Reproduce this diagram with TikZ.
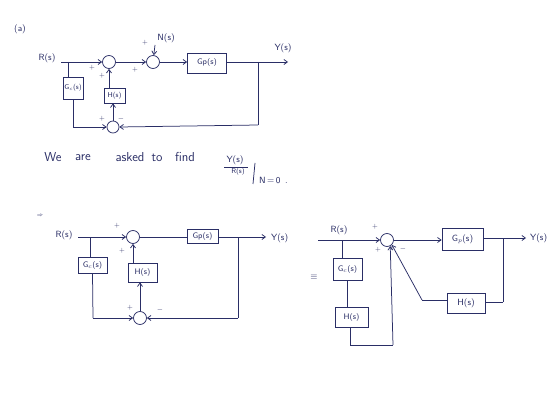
\documentclass[tikz,border=0pt]{standalone}
\usetikzlibrary{arrows.meta}
\definecolor{ink}{HTML}{2A2E66}
\begin{document}
\begin{tikzpicture}[x=1pt,y=-1pt,
  lbl/.style={text=ink,font=\sffamily\small,inner sep=0pt},
  wrd/.style={text=ink,font=\sffamily\fontsize{13}{15}\selectfont,inner sep=0pt},
  sgn/.style={text=ink,font=\sffamily\scriptsize,inner sep=0pt},
  blk/.style={draw=ink,line width=0.75pt,text=ink,font=\sffamily\footnotesize,inner sep=0pt},
  sumc/.style={circle,draw=ink,line width=0.75pt,minimum size=13pt,inner sep=0pt},
  conn/.style={draw=ink,line width=0.75pt},
  arr/.style={conn,-{Straight Barb[length=3.5pt,width=5pt]}}]
\useasboundingbox (0,0) rectangle (560,409);
\fill[white] (0,0) rectangle (560,409);

% ---------- (a)
\node[lbl] (lblA) at (20,29) {(a)};
\node[lbl] (R1) at (47,58) {R(s)};
\coordinate (r1) at (61,62);
\coordinate (b1) at (68,62);
\node[sumc] (s1) at (109,62) {};
\node[sumc] (s2) at (153,62) {};
\node[lbl] (N1) at (166,38) {N(s)};
\coordinate (n1) at (155,45);
\node[blk,minimum width=39pt,minimum height=20pt] (Gp1) at (207,63) {Gp(s)};
\coordinate (y1) at (288,62);
\node[lbl] (Y1) at (283,48) {Y(s)};
\coordinate (c1) at (258,62);
\coordinate (c1d) at (258,125);
\node[blk,minimum width=20pt,minimum height=22pt,font=\sffamily\scriptsize] (Gc1) at (73,88) {G$_c$(s)};
\coordinate (g1d) at (73,127);
\node[sumc,minimum size=12pt] (s0) at (113,127) {};
\node[blk,minimum width=21pt,minimum height=15pt,font=\sffamily\scriptsize] (H1) at (114.5,95.5) {H(s)};

\draw[conn] (r1) -- (b1);
\draw[arr] (b1) -- (s1);
\draw[arr] (s1) -- (s2);
\draw[arr] (n1) -- (s2);
\draw[arr] (s2) -- (Gp1.west |- s2);
\draw[arr] (Gp1.east |- s2) -- (y1);
\draw[conn] (c1) -- (c1d);
\draw[arr] (c1d) -- (s0.east);
\draw[conn] (b1) -- (Gc1.north -| b1);
\draw[conn] (Gc1.south) -- (g1d);
\draw[arr] (g1d) -- (s0.west);
\draw[arr] (s0.north) -- (H1.south -| s0);
\draw[arr] (H1.north -| s1) -- (s1.south);

\node[sgn] (pa1) at (92,68) {+};
\node[sgn] (pa2) at (102,76) {+};
\node[sgn] (pa3) at (135,70) {+};
\node[sgn] (pa4) at (145,43) {+};
\node[sgn] (pa5) at (102,119) {+};
\node[sgn] (pa6) at (121,119) {$-$};

% ---------- text
\node[wrd] (w1) at (53,157) {We};
\node[wrd] (w2) at (83,158) {are};
\node[wrd] (w3) at (130,157) {asked};
\node[wrd] (w4) at (157,158) {to};
\node[wrd] (w5) at (185,157) {find};
\node[lbl] (fn) at (235,160) {Y(s)};
\coordinate (fl1) at (224,167);
\coordinate (fl2) at (248,167);
\draw[conn,line width=0.6pt] (fl1) -- (fl2);
\node[lbl,font=\sffamily\scriptsize] (fd) at (238,172) {R(s)};
\coordinate (bar1) at (255,163);
\coordinate (bar2) at (253,184);
\draw[conn] (bar1) -- (bar2);
\node[lbl,anchor=west] (n0) at (259,180) {N\,=\,0\enspace.};

% ---------- bottom left
\node[lbl,font=\sffamily\tiny] (imp) at (40,216) {$\Rightarrow$};
\node[lbl] (R2) at (64,235) {R(s)};
\coordinate (r2) at (78,237);
\coordinate (b2) at (90,237);
\node[sumc] (s3) at (133,237) {};
\node[blk,minimum width=29pt,minimum height=16pt] (Gc2) at (92.5,265) {G$_c$(s)};
\coordinate (g2d) at (93,318);
\node[sumc] (s4) at (140,318) {};
\node[blk,minimum width=29pt,minimum height=19pt] (H2) at (142.5,272.5) {H(s)};
\node[blk,minimum width=31pt,minimum height=14pt] (Gp2) at (202.5,236.5) {Gp(s)};
\coordinate (y2) at (266,237);
\node[lbl,anchor=west] (Y2) at (271,238) {Y(s)};
\coordinate (c2) at (238,237);
\coordinate (c2d) at (238,318);

\draw[conn] (r2) -- (b2);
\draw[arr] (b2) -- (s3);
\draw[conn] (s3) -- (Gp2.west |- s3);
\draw[arr] (Gp2.east |- s3) -- (y2);
\draw[conn] (b2) -- (Gc2.north -| b2);
\draw[conn] (Gc2.south) -- (g2d);
\draw[arr] (g2d) -- (s4.west);
\draw[conn] (c2) -- (c2d);
\draw[arr] (c2d) -- (s4.east);
\draw[arr] (s4.north) -- (H2.south -| s4);
\draw[arr] (H2.north -| s3) -- (s3.south);

\node[sgn] (pb1) at (117,226) {+};
\node[sgn] (pb2) at (122,251) {+};
\node[sgn] (pb3) at (130,308) {+};
\node[sgn] (pb4) at (160,310) {$-$};

% ---------- bottom right
\node[lbl] (eq) at (314,277) {$\equiv$};
\node[lbl] (R3) at (339,230) {R(s)};
\coordinate (r3) at (318,240);
\coordinate (b3) at (342,240);
\node[sumc] (s5) at (387,240) {};
\node[blk,minimum width=29pt,minimum height=22pt] (Gc3) at (347.5,269) {G$_c$(s)};
\node[blk,minimum width=33pt,minimum height=20pt] (H3) at (351.5,317) {H(s)};
\coordinate (h3d) at (350,345);
\coordinate (h3r) at (393,345);
\node[blk,minimum width=41pt,minimum height=22pt,font=\sffamily\small] (Gp3) at (462.5,239) {G$_p$(s)};
\coordinate (y3) at (526,238);
\node[lbl,anchor=west] (Y3) at (530,238) {Y(s)};
\coordinate (c3) at (503,238);
\coordinate (c3d) at (503,302);
\node[blk,minimum width=38pt,minimum height=20pt,font=\sffamily\small] (H4) at (466,303) {H(s)};
\coordinate (h4l) at (422,300);

\draw[arr] (r3) -- (s5);
\draw[conn] (b3) -- (Gc3.north -| b3);
\draw[conn] (Gc3.south) -- (H3.north -| Gc3.south);
\draw[conn] (H3.south -| h3d) -- (h3d);
\draw[conn] (h3d) -- (h3r);
\draw[arr] (h3r) -- (s5.-62);
\draw[arr] (s5) -- (Gp3.west |- s5);
\draw[arr] (Gp3.east |- y3) -- (y3);
\draw[conn] (c3) -- (c3d);
\draw[conn] (c3d) -- (H4.east |- c3d);
\draw[conn] (H4.west |- h4l) -- (h4l);
\draw[arr] (h4l) -- (s5.-45);

\node[sgn] (pc1) at (375,227) {+};
\node[sgn] (pc2) at (378,250) {+};
\node[sgn] (pc3) at (403,249) {$-$};
\end{tikzpicture}
\end{document}
